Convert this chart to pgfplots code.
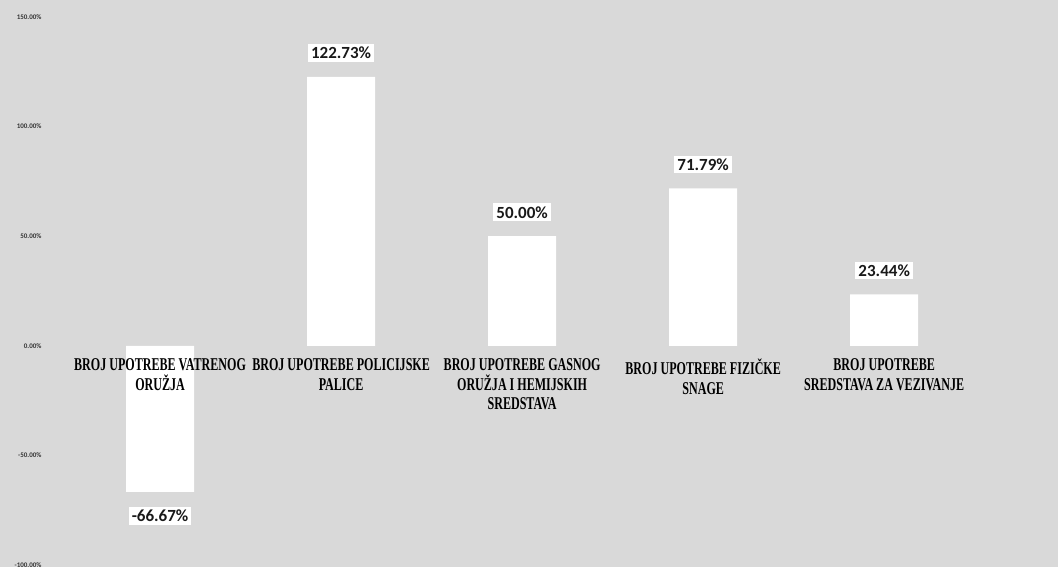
\documentclass[border=0pt]{standalone}
\usepackage{fontspec}
\setmainfont{Carlito}
\newfontfamily\catfont[FakeStretch=0.67]{Liberation Serif}
\usepackage{pgfplots}
\pgfplotsset{compat=1.18}
\begin{document}
\begin{tikzpicture}[x=1pt,y=1pt]
\fill[black!15] (0,0) rectangle (1058,567);
\begin{axis}[
  at={(50pt,2pt)}, anchor=south west,
  scale only axis, width=1008pt, height=548pt,
  xmin=-0.608, xmax=4.96, ymin=-100, ymax=150,
  axis x line=middle, axis y line=left,
  axis line style={draw=none},
  axis on top,
  major tick length=0pt,
  ytick={-100,-50,0,50,100,150},
  /pgf/number format/assume math mode=true,
  yticklabel={\pgfmathprintnumber[fixed,fixed zerofill,precision=2]{\tick}\%},
  yticklabel style={font=\bfseries\fontsize{7}{7}\selectfont, text=black!80, xshift=-5pt},
  xtick={0,1,2,3,4},
  xticklabels={{BROJ UPOTREBE VATRENOG\\ORUŽJA},{BROJ UPOTREBE POLICIJSKE\\PALICE},{BROJ UPOTREBE GASNOG\\ORUŽJA I HEMIJSKIH\\SREDSTAVA},{BROJ UPOTREBE FIZIČKE\\SNAGE},{BROJ UPOTREBE\\SREDSTAVA ZA VEZIVANJE}},
  xticklabel style={font=\catfont\bfseries\fontsize{18}{19.5}\selectfont, align=center, anchor=north, inner sep=0pt, yshift=-13pt, text=black},
  ybar, bar width=68pt,
  nodes near coords={\pgfmathprintnumber[fixed,fixed zerofill,precision=2]{\pgfplotspointmeta}\%},
  nodes near coords style={font=\bfseries\fontsize{17}{17}\selectfont, fill=white, inner sep=3pt, outer ysep=15pt, text=black!90},
  clip=false,
]
\addplot[fill=white, draw=none] coordinates {(0,-66.67) (1,122.73) (2,50.00) (3,71.79) (4,23.44)};
\end{axis}
\end{tikzpicture}
\end{document}
